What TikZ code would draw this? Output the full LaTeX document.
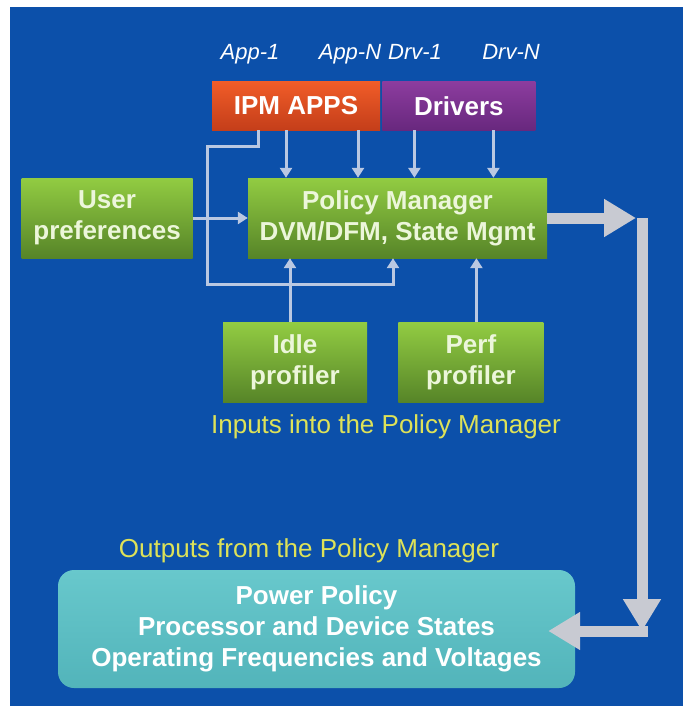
\documentclass[tikz,border=0pt]{standalone}
\usepackage{fontspec}
\setmainfont{Liberation Sans}
\usetikzlibrary{arrows.meta,positioning,shapes}

\definecolor{bgblue}{RGB}{12,80,170}
\definecolor{greentop}{RGB}{146,204,66}
\definecolor{greenbot}{RGB}{86,132,40}
\definecolor{boxtext}{RGB}{236,246,218}
\definecolor{capyellow}{RGB}{222,226,88}
\definecolor{feedline}{RGB}{186,200,226}
\definecolor{biggray}{RGB}{200,202,210}
\definecolor{tealtop}{RGB}{104,200,204}
\definecolor{tealbot}{RGB}{82,180,186}

\tikzset{
  greenbox/.style={top color=greentop, bottom color=greenbot, text=boxtext,
    font=\fontsize{26}{31}\selectfont\bfseries, align=center, inner sep=0pt},
  topbox/.style={text=white, font=\fontsize{26}{31}\selectfont\bfseries,
    inner sep=0pt, minimum height=48pt},
  srclabel/.style={text=white, anchor=base, font=\fontsize{22}{26}\selectfont\itshape},
  caption/.style={text=capyellow, font=\fontsize{26}{31}\selectfont},
  feed/.style={draw=feedline, line width=3pt, -{Triangle[width=12pt,length=10pt]}},
  bigarrow/.style={draw=biggray, line width=11pt, -{Triangle[width=36pt,length=32pt]}}
}

\begin{document}
\begin{tikzpicture}[x=1pt,y=-1pt]
\useasboundingbox (0,0) rectangle (683,706);
\fill[white] (0,0) rectangle (683,706);
\fill[bgblue] (10,7) rectangle (683,706);

% sources on top
\node[topbox, top color={rgb,255:red,240;green,92;blue,40}, bottom color={rgb,255:red,196;green,62;blue,26},
  minimum width=168pt] (ipm) at (296,106) {IPM APPS};
\node[topbox, top color={rgb,255:red,140;green,60;blue,158}, bottom color={rgb,255:red,104;green,40;blue,126},
  minimum width=153pt, right=2pt of ipm] (drv) {Drivers};
\node[srclabel] (app1) at (250,60) {App-1};
\node[srclabel] (appn) at (350,60) {App-N};
\node[srclabel] (drv1) at (415,60) {Drv-1};
\node[srclabel] (drvn) at (511,60) {Drv-N};

% policy manager and inputs
\node[greenbox, minimum width=299pt, minimum height=80pt] (pm) at (397.5,218)
  {Policy Manager\\DVM/DFM, State Mgmt};
\node[greenbox, minimum width=171pt, minimum height=80pt, left=55pt of pm] (user)
  {User\\preferences};
\node[greenbox, minimum width=144pt, minimum height=80pt] (idle) at (295,362.5)
  {Idle\\profiler};
\node[greenbox, minimum width=145pt, minimum height=80pt, right=31pt of idle] (perf)
  {Perf\\profiler};
\node[caption] (inputs) at (386,427) {Inputs into the Policy Manager};

% outputs
\node[caption] (outputs) at (309,551) {Outputs from the Policy Manager};
\node[top color=tealtop, bottom color=tealbot, rounded corners=16pt, text=white,
  font=\fontsize{26}{31}\selectfont\bfseries, align=center,
  minimum width=517pt, minimum height=118pt] (pp) at (316.5,629)
  {Power Policy\\Processor and Device States\\Operating Frequencies and Voltages};

% thin arrows into the manager
\draw[feed] ([xshift=-10pt]ipm.south) -- ([xshift=-10pt]ipm.south |- pm.north);
\draw[feed] ([xshift=62pt]ipm.south) -- ([xshift=62pt]ipm.south |- pm.north);
\draw[feed] ([xshift=-44.5pt]drv.south) -- ([xshift=-44.5pt]drv.south |- pm.north);
\draw[feed] ([xshift=34.5pt]drv.south) -- ([xshift=34.5pt]drv.south |- pm.north);
\draw[feed] ([xshift=-38pt]ipm.south) -- ++(0,16) -- ++(-51,0) -- ++(0,138) -- ++(186,0)
  -- ([xshift=-4.5pt]pm.south);
\draw[feed] (user) -- (pm);
\draw[feed] ([xshift=-5pt]idle.north) -- ([xshift=-5pt]idle.north |- pm.south);
\draw[feed] ([xshift=5.5pt]perf.north) -- ([xshift=5.5pt]perf.north |- pm.south);

% big output arrows
\coordinate (c1) at (642,218);
\coordinate (c2) at (642,631);
\draw[bigarrow] (pm.east) -- ([xshift=-6pt]c1);
\draw[bigarrow] (c1) -- (c2);
\draw[bigarrow] ([xshift=5.5pt]c2) -- ([xshift=-27pt]pp.east |- c2);
\end{tikzpicture}
\end{document}
